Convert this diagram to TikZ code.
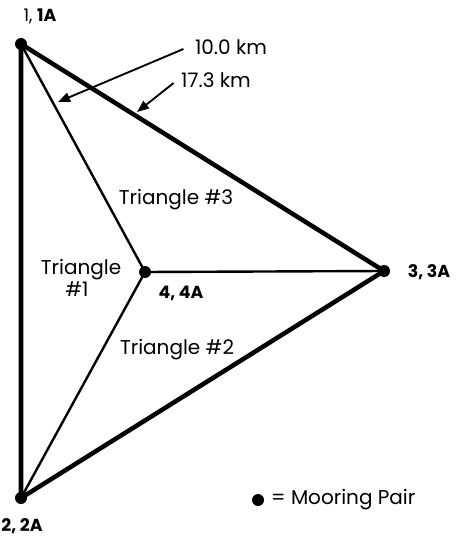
\documentclass[tikz,border=0pt]{standalone}
\usepackage{fontspec}
\setmainfont{Poppins}
\usetikzlibrary{arrows.meta, positioning, calc}

\begin{document}
\begin{tikzpicture}[
    x=0.75pt,
    y=-0.75pt,
    fondeo/.style={circle, fill=black, inner sep=0pt, minimum size=9pt},
    lado/.style={line width=3.4pt},
    radio/.style={line width=1.8pt},
    flecha/.style={-{Triangle[length=9pt, width=7pt]}, line width=1.4pt},
    texto/.style={font=\fontsize{15}{17}\selectfont, inner sep=1pt},
    marca/.style={font=\fontsize{13}{15}\selectfont\bfseries, inner sep=1pt}
]
\useasboundingbox (0,0) rectangle (460,541);

% Fondeos
\node[fondeo] (m1) at (21,44) {};
\node[fondeo] (m2) at (21,498) {};
\node[fondeo] (m3) at (384,271) {};
\node[fondeo] (m4) at (145,272) {};

% Lados del triangulo grande
\draw[lado, line join=round] (m1.center) -- (m2.center) -- (m3.center) -- cycle;

% Lineas al centro
\draw[radio] (m1.center) -- (m4.center);
\draw[radio] (m2.center) -- (m4.center);
\draw[radio] (m3.center) -- (m4.center);

% Etiquetas de los fondeos
\node[marca] (l1) at (40,16) {\mdseries 1, \bfseries 1A};
\node[marca] (l2) at (22,526) {2, 2A};
\node[marca] (l3) at (429,272) {3, 3A};
\node[marca] (l4) at (181,293) {4, 4A};

% Triangulos
\node[texto] (t3) at (176,200) {Triangle \#3};
\node[texto] (t1) at (81,270) {Triangle};
\node[texto, below=0pt of t1, xshift=-3pt, inner sep=0pt] (t1num) {\#1};
\node[texto] (t2) at (177,350) {Triangle \#2};

% Distancias
\node[texto] (d10) at (231,47) {10.0 km};
\node[texto] (d17) at (216,80) {17.3 km};
\coordinate (p10) at (58,102);
\coordinate (p17) at (137,112);
\draw[flecha] (d10.west) ++(-10,2) -- (p10);
\draw[flecha] (d17.west) ++(-6,3) -- (p17);

% Leyenda
\node[fondeo] (ley) at (258,500) {};
\node[texto, right=4pt of ley] (leytxt) {= Mooring Pair};

\end{tikzpicture}
\end{document}
